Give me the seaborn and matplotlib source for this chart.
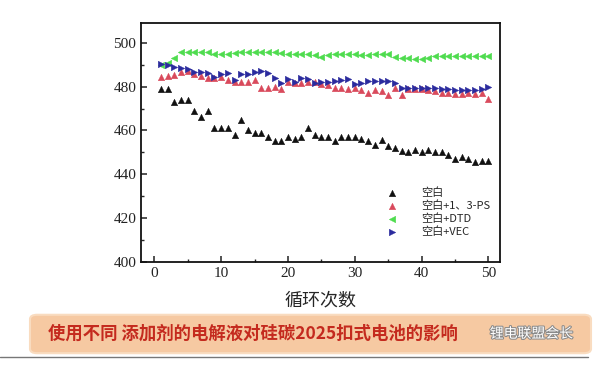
import matplotlib
matplotlib.use("Agg")
import matplotlib.pyplot as plt
import seaborn as sns
import pandas as pd
import numpy as np
from matplotlib.patches import FancyBboxPatch
from matplotlib.ticker import MultipleLocator
import matplotlib.patheffects as pe

cycles = list(range(1, 51))

blank = [479, 479, 473, 474, 474, 469, 466, 469, 461, 461,
         461, 458, 465, 460, 459, 459, 457, 455, 455, 457,
         456, 457, 461, 458, 457, 457, 455, 457, 457, 457,
         456, 455, 453.5, 455.5, 453, 452, 450.5, 450, 451, 450,
         451, 450, 450, 449, 447, 448, 447, 445.5, 446, 446]

ps = [484.6, 485, 485.4, 486.6, 487, 485.7, 485, 484, 483.8, 484.6,
      483, 482.3, 482.3, 482.3, 483, 479.2, 479.2, 480, 479, 482,
      481.5, 481.5, 482.3, 482, 481, 480.8, 479.5, 479.2, 479, 479.5,
      478.5, 477, 478.5, 478, 476, 479.5, 476, 479, 479, 479,
      478.5, 478, 477, 477, 476.5, 476.5, 477, 476.5, 477, 474.5]

dtd = [490, 491, 493, 496, 496, 496, 496, 496, 495, 495,
       495, 495.5, 496, 496, 496, 496, 496, 496, 495.5, 495,
       495, 495, 495, 494.5, 493.5, 494.5, 495, 495, 495, 495,
       494.5, 494.5, 495, 495, 495, 493.5, 493, 493, 492.5, 492.5,
       493, 494, 494, 494, 494, 494, 494, 494, 494, 494]

vec = [490.3, 490, 489, 488.5, 488, 486.5, 486.5, 486, 484.6, 485.7,
       486, 483, 485.7, 485.7, 486.6, 487, 486, 484, 481.5, 483.5,
       482, 484, 483.5, 481.5, 482.3, 482.3, 482.6, 483, 483.5, 481,
       481.5, 482.8, 482.8, 482.8, 482.8, 481.5, 479.5, 479.5, 479.5, 479.5,
       479.5, 479.5, 479, 479, 478.5, 478.5, 478.5, 478.5, 479, 479.7]

labels = ["空白", "空白+1、3-PS", "空白+DTD", "空白+VEC"]
series = [blank, ps, dtd, vec]
markers = ["^", "^", "<", ">"]
colors = ["#111111", "#d94a5c", "#4fdc4f", "#2b2b9e"]

sns.set_style("white")
cjk = ["Noto Sans CJK SC", "DejaVu Sans"]

fig = plt.figure(figsize=(6, 3.66), dpi=100)
ax = fig.add_axes([0.235, 0.284, 0.598, 0.653])

for vals, lab, m, c in zip(series, labels, markers, colors):
    df = pd.DataFrame({"cycle": cycles, "value": vals})
    sns.scatterplot(data=df, x="cycle", y="value", marker=m, color=c,
                    s=22, edgecolor=c, linewidth=0.3, label=lab, ax=ax)

ax.set_xlim(-2, 51.7)
ax.set_ylim(400, 509)
ax.xaxis.set_major_locator(MultipleLocator(10))
ax.xaxis.set_minor_locator(MultipleLocator(5))
ax.yaxis.set_major_locator(MultipleLocator(20))
ax.yaxis.set_minor_locator(MultipleLocator(10))
ax.tick_params(which="major", direction="in", length=4, width=1.1,
               bottom=True, left=True, labelsize=11, colors="#222222")
ax.tick_params(which="minor", direction="in", length=2.5, width=1,
               bottom=True, left=True)
for lbl in ax.get_xticklabels() + ax.get_yticklabels():
    lbl.set_fontfamily("Liberation Serif")
for sp in ax.spines.values():
    sp.set_color("#111111")
    sp.set_linewidth(1.3)

ax.set_xlabel("循环次数", family=cjk, fontsize=13, labelpad=8)
ax.set_ylabel("")

leg = ax.legend(loc="lower left", bbox_to_anchor=(0.64, 0.065), frameon=False,
                prop={"family": cjk, "size": 8}, handletextpad=1.6,
                labelspacing=0.2, markerscale=1.0)

# banner at bottom
banner = FancyBboxPatch((0.055, 0.04), 0.925, 0.095,
                        boxstyle="round,pad=0.005,rounding_size=0.012",
                        transform=fig.transFigure, facecolor="#f6c9a2",
                        edgecolor="#f9dcc0", linewidth=1.5)
fig.patches.append(banner)
fig.add_artist(plt.Line2D([0.0, 0.98], [0.025, 0.025], color="#777777",
                          linewidth=1.0, transform=fig.transFigure))
fig.text(0.08, 0.088, "使用不同 添加剂的电解液对硅碳2025扣式电池的影响",
         family=cjk, fontsize=12.5, fontweight="bold", color="#c42a1e",
         ha="left", va="center")
fig.text(0.955, 0.088, "锂电联盟会长", family=cjk, fontsize=10,
         color="white", ha="right", va="center",
         path_effects=[pe.withStroke(linewidth=1.5, foreground="#8a8a8a")])

plt.savefig("out.png", dpi=100)
plt.close()
